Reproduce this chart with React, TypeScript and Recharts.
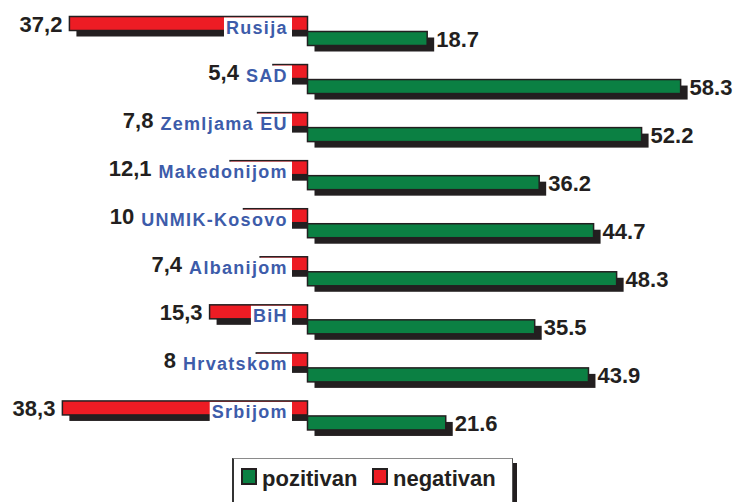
import React from 'react';
import { BarChart, Bar, XAxis, YAxis } from 'recharts';

const names = ['Rusija', 'SAD', 'Zemljama EU', 'Makedonijom', 'UNMIK-Kosovo', 'Albanijom', 'BiH', 'Hrvatskom', 'Srbijom'];
const pozitivan = [18.7, 58.3, 52.2, 36.2, 44.7, 48.3, 35.5, 43.9, 21.6];
const negativan = [37.2, 5.4, 7.8, 12.1, 10, 7.4, 15.3, 8, 38.3];

const RED = '#ed1c24';
const GREEN = '#0b8043';
const DARK = '#231f20';
const BLUE = '#3d5caa';
const FONT = '"Liberation Sans", Arial, sans-serif';
const CAT_SIZE = 18;
const CAT_SPACING = 1.3;

if (typeof document !== 'undefined') {
  document.body.style.overflow = 'hidden';
  document.body.style.margin = '0';
}

const data = names.map((name, i) => ({ name, poz: pozitivan[i], neg: -negativan[i] }));

let ctx: CanvasRenderingContext2D | null = null;
function textWidth(s: string) {
  if (!ctx) ctx = document.createElement('canvas').getContext('2d');
  if (!ctx) return s.length * 10;
  ctx.font = `bold ${CAT_SIZE}px ${FONT}`;
  return ctx.measureText(s).width + CAT_SPACING * (s.length - 1);
}

const RedBar = (props: any) => {
  const { x, y, width, height, index } = props;
  const left = Math.min(x, x + width);
  const right = Math.max(x, x + width);
  const w = right - left;
  const name = names[index];
  const textEnd = right - 21;
  const tw = textWidth(name);
  const textLeft = textEnd - tw;
  const labelRight = Math.min(left, textLeft) - 7;
  return (
    <g>
      <rect x={left + 7} y={y + 6} width={Math.max(0, w - 7)} height={height} fill={DARK} />
      <rect x={left} y={y} width={w} height={height} fill={RED} stroke={DARK} strokeWidth={1.5} />
      <text x={labelRight} y={y + height + 1} textAnchor="end" fill={DARK}
        fontSize={22} fontWeight={700} fontFamily={FONT}>
        {String(negativan[index]).replace('.', ',')}
      </text>
      <rect x={textLeft - 2} y={y + 1} width={right - 15.5 - (textLeft - 2)} height={22} fill="#fff" />
      <text x={textEnd + CAT_SPACING} y={y + height + 3} textAnchor="end" fill={BLUE}
        fontSize={CAT_SIZE} fontWeight={700} fontFamily={FONT} style={{ letterSpacing: CAT_SPACING }}>
        {name}
      </text>
    </g>
  );
};

const GreenBar = (props: any) => {
  const { x, y, width, height, index } = props;
  return (
    <g>
      <rect x={x + 7} y={y + 6} width={width} height={height} fill={DARK} />
      <rect x={x} y={y} width={width} height={height} fill={GREEN} stroke={DARK} strokeWidth={1.5} />
      <text x={x + width + 9} y={y + height + 1.5} textAnchor="start" fill={DARK}
        fontSize={22} fontWeight={700} fontFamily={FONT}>
        {pozitivan[index].toFixed(1)}
      </text>
    </g>
  );
};

const square = (color: string, left: number): React.CSSProperties => ({
  position: 'absolute', left, top: 9, width: 16, height: 17, boxSizing: 'border-box',
  background: color, border: `2px solid ${DARK}`,
});

const label = (left: number): React.CSSProperties => ({
  position: 'absolute', left, top: 8.7, fontFamily: FONT, fontWeight: 700, fontSize: 22,
  lineHeight: '22px', color: DARK, whiteSpace: 'nowrap',
});

export default function App() {
  return (
    <div style={{ position: 'relative', width: 736, height: 502 }}>
      <BarChart width={736} height={502} data={data} layout="vertical" barGap={1}
        margin={{ top: 6.5, right: 44.5, bottom: 63, left: 51.5 }}>
        <XAxis type="number" domain={[-40, 60]} hide />
        <YAxis type="category" dataKey="name" hide />
        <Bar dataKey="neg" barSize={14} shape={RedBar} isAnimationActive={false} />
        <Bar dataKey="poz" barSize={14} shape={GreenBar} isAnimationActive={false} />
      </BarChart>
      <div style={{
        position: 'absolute', left: 232, top: 458, width: 281, height: 44, boxSizing: 'border-box',
        borderTop: '1px solid #8a8a8a', borderLeft: '2px solid #333', borderRight: '1px solid #555',
      }}>
        <div style={{ position: 'absolute', right: -5, top: 4, width: 4, height: 40, background: DARK }} />
        <div style={square(GREEN, 7)} />
        <div style={label(28)}>pozitivan</div>
        <div style={square(RED, 138)} />
        <div style={label(159)}>negativan</div>
      </div>
    </div>
  );
}
